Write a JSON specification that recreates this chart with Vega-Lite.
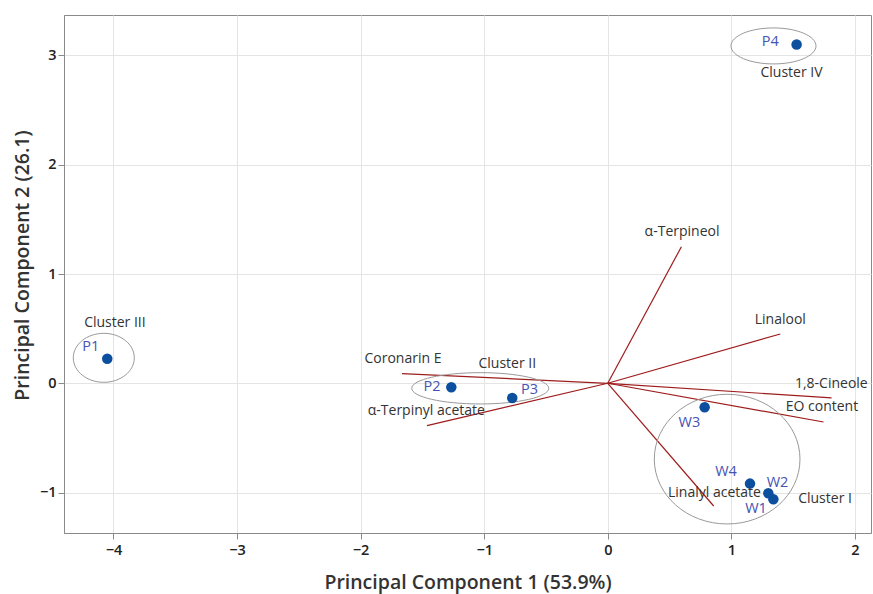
{
  "$schema": "https://vega.github.io/schema/vega-lite/v6.json",
  "width": 807,
  "height": 518,
  "autosize": "none",
  "padding": {"left": 64, "top": 15, "right": 2, "bottom": 61},
  "background": "white",
  "config": {
    "view": {"stroke": "#8a8a8a", "strokeWidth": 1},
    "font": "Open Sans",
    "axis": {
      "grid": true,
      "gridColor": "#e4e4e4",
      "gridWidth": 1,
      "domainColor": "#8a8a8a",
      "tickColor": "#8a8a8a",
      "tickSize": 6,
      "labelFont": "Open Sans",
      "labelFontSize": 14.5,
      "labelFontWeight": 600,
      "labelColor": "#222",
      "labelPadding": 3,
      "titleFont": "Open Sans",
      "titleFontSize": 19.5,
      "titleFontWeight": 600,
      "titleColor": "#333"
    }
  },
  "datasets": {
    "scores": [
      {"sample": "P1", "pc1": -4.05, "pc2": 0.225, "lx": -4.184, "ly": 0.335},
      {"sample": "P2", "pc1": -1.266, "pc2": -0.037, "lx": -1.423, "ly": -0.037},
      {"sample": "P3", "pc1": -0.773, "pc2": -0.134, "lx": -0.633, "ly": -0.061},
      {"sample": "P4", "pc1": 1.528, "pc2": 3.10, "lx": 1.315, "ly": 3.12},
      {"sample": "W1", "pc1": 1.34, "pc2": -1.061, "lx": 1.20, "ly": -1.153},
      {"sample": "W2", "pc1": 1.299, "pc2": -1.006, "lx": 1.374, "ly": -0.915},
      {"sample": "W3", "pc1": 0.784, "pc2": -0.22, "lx": 0.66, "ly": -0.36},
      {"sample": "W4", "pc1": 1.151, "pc2": -0.918, "lx": 0.957, "ly": -0.814}
    ],
    "loadings": [
      {"variable": "α-Terpineol", "pc1": 0.596, "pc2": 1.25, "lx": 0.601, "ly": 1.38},
      {"variable": "Linalool", "pc1": 1.396, "pc2": 0.451, "lx": 1.396, "ly": 0.579},
      {"variable": "1,8-Cineole", "pc1": 1.811, "pc2": -0.134, "lx": 1.809, "ly": -0.006},
      {"variable": "EO content", "pc1": 1.746, "pc2": -0.354, "lx": 1.733, "ly": -0.214},
      {"variable": "Linalyl acetate", "pc1": 0.857, "pc2": -1.123, "lx": 0.863, "ly": -1.0},
      {"variable": "Coronarin E", "pc1": -1.665, "pc2": 0.088, "lx": -1.657, "ly": 0.22},
      {"variable": "α-Terpinyl acetate", "pc1": -1.463, "pc2": -0.388, "lx": -1.468, "ly": -0.253}
    ],
    "clusters": [
      {"cluster": "Cluster I", "cx": 0.966, "cy": -0.694, "lx": 1.758, "ly": -1.059},
      {"cluster": "Cluster II", "cx": -1.032, "cy": -0.046, "lx": -0.813, "ly": 0.174},
      {"cluster": "Cluster III", "cx": -4.078, "cy": 0.233, "lx": -3.988, "ly": 0.549},
      {"cluster": "Cluster IV", "cx": 1.341, "cy": 3.087, "lx": 1.487, "ly": 2.836}
    ]
  },
  "encoding": {
    "x": {"type": "quantitative", "scale": {"domain": [-4.4, 2.13], "nice": false, "zero": false},
          "axis": {"values": [-4, -3, -2, -1, 0, 1, 2], "title": "Principal Component 1 (53.9%)", "titleY": 49, "titleBaseline": "middle", "labelPadding": 4}},
    "y": {"type": "quantitative", "scale": {"domain": [-1.37, 3.37], "nice": false, "zero": false},
          "axis": {"values": [-1, 0, 1, 2, 3], "title": "Principal Component 2 (26.1)", "titleX": -42, "titleY": 250, "titleBaseline": "middle", "labelPadding": 2}}
  },
  "layer": [
    {
      "data": {"name": "loadings"},
      "mark": {"type": "rule", "color": "#9e1c1c", "strokeWidth": 1.2},
      "encoding": {
        "x": {"field": "pc1", "type": "quantitative"},
        "y": {"field": "pc2", "type": "quantitative"},
        "x2": {"datum": 0},
        "y2": {"datum": 0}
      }
    },
    {
      "data": {"name": "clusters"},
      "transform": [{"filter": "datum.cluster === 'Cluster I'"}],
      "mark": {"type": "point", "filled": false, "stroke": "#999", "strokeWidth": 1, "opacity": 1, "size": 21228,
               "shape": "M-1,0C-1,-0.4916,-0.5523,-0.89,0,-0.89C0.5523,-0.89,1,-0.4916,1,0C1,0.4916,0.5523,0.89,0,0.89C-0.5523,0.89,-1,0.4916,-1,0Z"},
      "encoding": {"x": {"field": "cx", "type": "quantitative"}, "y": {"field": "cy", "type": "quantitative"}}
    },
    {
      "data": {"name": "clusters"},
      "transform": [{"filter": "datum.cluster === 'Cluster II'"}],
      "mark": {"type": "point", "filled": false, "stroke": "#999", "strokeWidth": 1, "opacity": 1, "size": 18769,
               "shape": "M-1,0C-1,-0.1262,-0.5523,-0.2285,0,-0.2285C0.5523,-0.2285,1,-0.1262,1,0C1,0.1262,0.5523,0.2285,0,0.2285C-0.5523,0.2285,-1,0.1262,-1,0Z"},
      "encoding": {"x": {"field": "cx", "type": "quantitative"}, "y": {"field": "cy", "type": "quantitative"}}
    },
    {
      "data": {"name": "clusters"},
      "transform": [{"filter": "datum.cluster === 'Cluster III'"}],
      "mark": {"type": "point", "filled": false, "stroke": "#999", "strokeWidth": 1, "opacity": 1, "size": 3721,
               "shape": "M-1,0C-1,-0.4435,-0.5523,-0.803,0,-0.803C0.5523,-0.803,1,-0.4435,1,0C1,0.4435,0.5523,0.803,0,0.803C-0.5523,0.803,-1,0.4435,-1,0Z"},
      "encoding": {"x": {"field": "cx", "type": "quantitative"}, "y": {"field": "cy", "type": "quantitative"}}
    },
    {
      "data": {"name": "clusters"},
      "transform": [{"filter": "datum.cluster === 'Cluster IV'"}],
      "mark": {"type": "point", "filled": false, "stroke": "#999", "strokeWidth": 1, "opacity": 1, "size": 7225,
               "shape": "M-1,0C-1,-0.2339,-0.5523,-0.4235,0,-0.4235C0.5523,-0.4235,1,-0.2339,1,0C1,0.2339,0.5523,0.4235,0,0.4235C-0.5523,0.4235,-1,0.2339,-1,0Z"},
      "encoding": {"x": {"field": "cx", "type": "quantitative"}, "y": {"field": "cy", "type": "quantitative"}}
    },
    {
      "data": {"name": "scores"},
      "mark": {"type": "circle", "color": "#0b4f9e", "opacity": 1, "size": 110},
      "encoding": {"x": {"field": "pc1", "type": "quantitative"}, "y": {"field": "pc2", "type": "quantitative"}}
    },
    {
      "data": {"name": "scores"},
      "mark": {"type": "text", "color": "#4553b3", "fontSize": 14.5, "align": "center", "baseline": "middle"},
      "encoding": {"x": {"field": "lx", "type": "quantitative"}, "y": {"field": "ly", "type": "quantitative"}, "text": {"field": "sample"}}
    },
    {
      "data": {"name": "loadings"},
      "mark": {"type": "text", "color": "#333", "fontSize": 14, "align": "center", "baseline": "middle"},
      "encoding": {"x": {"field": "lx", "type": "quantitative"}, "y": {"field": "ly", "type": "quantitative"}, "text": {"field": "variable"}}
    },
    {
      "data": {"name": "clusters"},
      "mark": {"type": "text", "color": "#333", "fontSize": 14, "align": "center", "baseline": "middle"},
      "encoding": {"x": {"field": "lx", "type": "quantitative"}, "y": {"field": "ly", "type": "quantitative"}, "text": {"field": "cluster"}}
    }
  ]
}
